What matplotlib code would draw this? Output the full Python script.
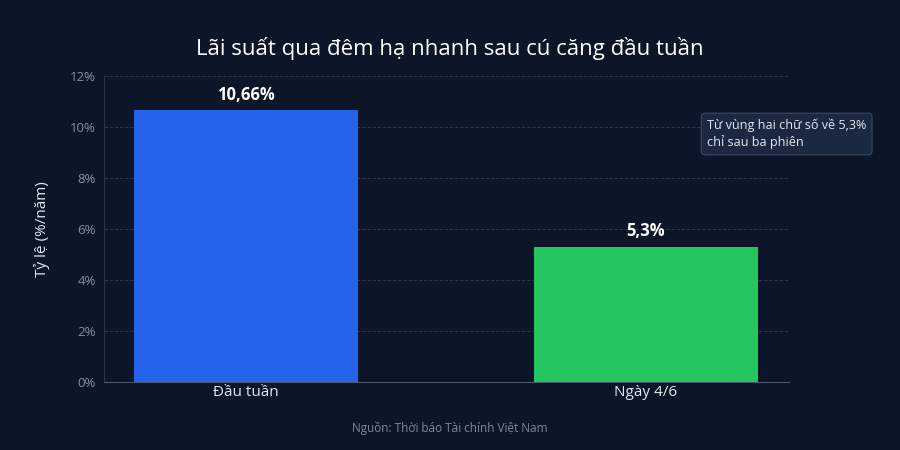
import matplotlib.pyplot as plt
from matplotlib.ticker import FuncFormatter

plt.rcParams['font.family'] = ['Open Sans', 'Noto Sans', 'DejaVu Sans']

nhan = ['Đầu tuần', 'Ngày 4/6']
lai_suat = [10.66, 5.3]
nhan_gia_tri = ['10,66%', '5,3%']
mau = ['#2563eb', '#22c55e']

nen = '#0c1628'

fig = plt.figure(figsize=(9, 4.5), dpi=100, facecolor=nen)
ax = fig.add_axes([104 / 900, 1 - 382 / 450, (789 - 104) / 900, (382 - 76) / 450])
ax.set_facecolor(nen)

vi_tri = range(len(nhan))
cot = ax.bar(vi_tri, lai_suat, width=0.56, color=mau, zorder=3)
for c, t in zip(cot, nhan_gia_tri):
    ax.text(c.get_x() + c.get_width() / 2, c.get_height() + 0.25, t,
            ha='center', va='bottom', color='white', fontsize=12, fontweight='bold')

ax.set_xlim(-0.355, 1.3575)
ax.set_ylim(0, 12)
ax.set_yticks(range(0, 13, 2))
ax.yaxis.set_major_formatter(FuncFormatter(lambda v, p: f'{v:.0f}%'))
ax.set_xticks(list(vi_tri))
ax.set_xticklabels(nhan)

ax.grid(axis='y', color='#2a3648', linestyle='--', linewidth=0.7, zorder=0)
for s in ['top', 'right']:
    ax.spines[s].set_visible(False)
ax.spines['left'].set_color('#2a3648')
ax.spines['bottom'].set_color('#475569')
ax.tick_params(axis='y', colors='#8391a5', labelsize=9.5, length=0, pad=6)
ax.tick_params(axis='x', colors='#e2e8f0', labelsize=11, length=0, pad=2)

ax.set_ylabel('Tỷ lệ (%/năm)', color='#e2e8f0', fontsize=11, labelpad=14)

fig.text(0.5, 1 - 48 / 450, 'Lãi suất qua đêm hạ nhanh sau cú căng đầu tuần',
         ha='center', va='center', color='white', fontsize=16)

fig.text(707 / 900, 1 - 134 / 450, 'Từ vùng hai chữ số về 5,3%\nchỉ sau ba phiên',
         ha='left', va='center', color='#e2e8f0', fontsize=9.1, linespacing=1.25,
         bbox=dict(boxstyle='round,pad=0.45,rounding_size=0.3', facecolor='#1b2940',
                   edgecolor='#3b4a60', linewidth=0.8))

fig.text(0.5, 1 - 428 / 450, 'Nguồn: Thời báo Tài chính Việt Nam',
         ha='center', va='center', color='#7c8797', fontsize=8.5)

fig.savefig('out.png', dpi=100, facecolor=nen)
